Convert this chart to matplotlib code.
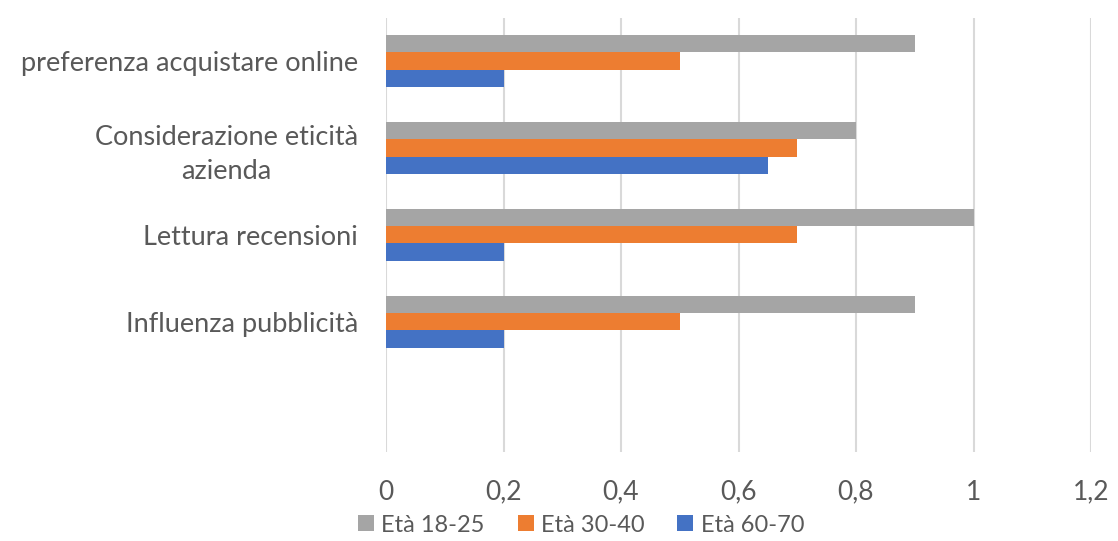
import matplotlib
matplotlib.use("Agg")
import matplotlib.pyplot as plt
import numpy as np

categories = ["", "Influenza pubblicità", "Lettura recensioni",
              "Considerazione eticità\nazienda", "preferenza acquistare online"]
series_names = ["Età 18-25", "Età 30-40", "Età 60-70"]
eta_18_25 = [0, 0.9, 1.0, 0.8, 0.9]
eta_30_40 = [0, 0.5, 0.7, 0.7, 0.5]
eta_60_70 = [0, 0.2, 0.2, 0.65, 0.2]
x_ticks = [0, 0.2, 0.4, 0.6, 0.8, 1.0, 1.2]
x_tick_labels = ["0", "0,2", "0,4", "0,6", "0,8", "1", "1,2"]

colors = ["#A5A5A5", "#ED7D31", "#4472C4"]
text_color = "#595959"

plt.rcParams['font.family'] = ['Lato', 'DejaVu Sans']

fig = plt.figure(figsize=(11.18, 5.41), dpi=100)
ax = fig.add_axes([386/1118, 1-452/541, (1091-386)/1118, (452-17.5)/541])

y = np.arange(len(categories))
h = 0.2
for vals, off, c, name in zip([eta_18_25, eta_30_40, eta_60_70], [h, 0, -h], colors, series_names):
    ax.barh(y + off, vals, height=h, color=c, label=name, zorder=3)

ax.set_xlim(0, 1.2)
ax.set_ylim(-0.5, len(categories) - 0.5)
ax.set_xticks(x_ticks)
ax.set_xticklabels(x_tick_labels)
ax.set_yticks(y)
ax.set_yticklabels(categories, linespacing=1.45)
ax.tick_params(axis='y', length=0, pad=20, labelsize=19.5, labelcolor=text_color)
ax.tick_params(axis='x', length=0, pad=20, labelsize=19, labelcolor=text_color)
for lab in ax.get_yticklabels():
    lab.set_multialignment('center')

ax.grid(axis='x', color='#D9D9D9', linewidth=1.5, zorder=0)
for s in ax.spines.values():
    s.set_visible(False)

handles, labels = ax.get_legend_handles_labels()
fig.legend(handles, labels, loc='center', bbox_to_anchor=(581/1118, 1-525/541),
           ncol=3, frameon=False, fontsize=17, labelcolor=text_color,
           handlelength=0.68, handleheight=0.68, handletextpad=0.3, columnspacing=1.4,
           borderpad=0, borderaxespad=0)

fig.savefig("out.png", dpi=100)
